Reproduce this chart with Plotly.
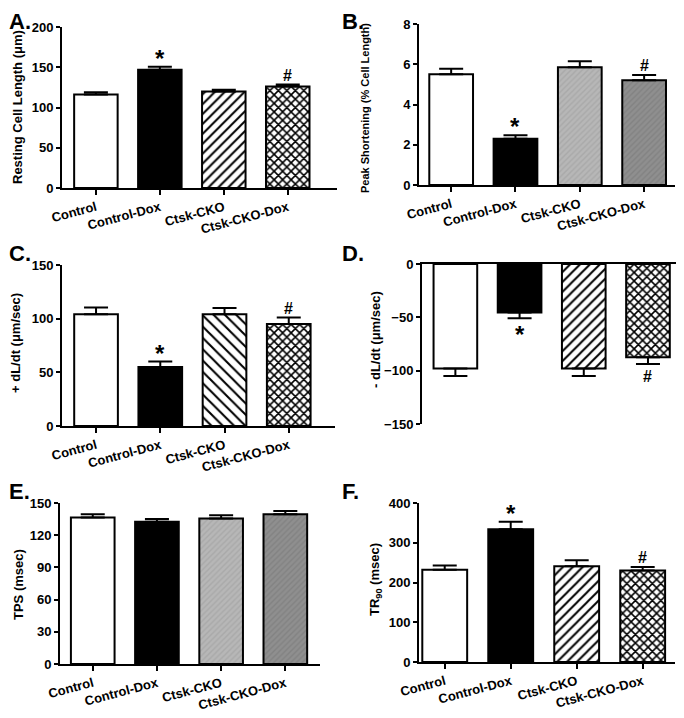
import plotly.graph_objects as go

# The page body keeps its default 8px margin, so the figure is drawn 8px in
# from the top-left corner; size it to fill the rest of the 684x718 window.
OFF = 8
W, H = 684 - OFF, 718 - OFF

categories = ["Control", "Control-Dox", "Ctsk-CKO", "Ctsk-CKO-Dox"]

resting_len = [116, 147, 120, 126]
resting_len_err = [3, 3.5, 2.2, 2.5]

peak_short = [5.5, 2.3, 5.85, 5.2]
peak_short_err = [0.28, 0.17, 0.3, 0.27]

plus_dldt = [104, 55, 104, 95]
plus_dldt_err = [6.5, 5, 6, 6]

minus_dldt = [-98, -45.5, -98, -87.5]
minus_dldt_err = [7, 5.3, 7, 6.3]

tps = [136.5, 132.5, 135.5, 139.5]
tps_err = [3, 2.5, 3, 3]

tr90 = [232, 334, 241, 230]
tr90_err = [11, 19, 15, 9]

sig_marks = ["", "*", "", "#"]

y_ticks_A = [0, 50, 100, 150, 200]
y_ticks_B = [0, 2, 4, 6, 8]
y_ticks_C = [0, 50, 100, 150]
y_ticks_D = [0, -50, -100, -150]
y_ticks_E = [0, 30, 60, 90, 120, 150]
y_ticks_F = [0, 100, 200, 300, 400]

FONT = "Liberation Sans, Arial, sans-serif"

# fill styles per bar: (background, pattern shape, pattern colour, size, solidity)
WHITE = ("white", "", "black", 8, 0.3)
BLACK = ("black", "", "black", 8, 0.3)
style_fwd = [WHITE, BLACK, ("white", "/", "black", 7, 0.28), ("white", "x", "black", 6, 0.45)]
style_back = [WHITE, BLACK, ("white", "\\", "black", 8, 0.26), ("white", "x", "black", 6, 0.45)]
style_gray = [WHITE, BLACK, ("#b7b7b7", "/", "#a9a9a9", 4, 0.35),
              ("#8f8f8f", "/", "#828282", 4, 0.35)]

panels = [
    dict(key="A", vals=resting_len, errs=resting_len_err, ticks=y_ticks_A, yr=[0, 200],
         px=(62, 337), py=(27, 188), xr=[-0.53, 3.77], style=style_fwd, marks=sig_marks,
         title="Resting Cell Length (\u03bcm)", tsize=13, tx=17, ty=107, lx=-8, ly=-8),
    dict(key="B", vals=peak_short, errs=peak_short_err, ticks=y_ticks_B, yr=[0, 8],
         px=(419, 675), py=(24, 185), xr=[-0.50, 3.48], style=style_gray, marks=sig_marks,
         title="Peak Shortening (% Cell Length)", tsize=11, tx=365, ty=108, lx=333, ly=-8),
    dict(key="C", vals=plus_dldt, errs=plus_dldt_err, ticks=y_ticks_C, yr=[0, 150],
         px=(62, 335), py=(265, 426), xr=[-0.53, 3.72], style=style_back, marks=sig_marks,
         title="+ dL/dt (\u03bcm/sec)", tsize=13, tx=15, ty=343, lx=-8, ly=232),
    dict(key="D", vals=minus_dldt, errs=minus_dldt_err, ticks=y_ticks_D, yr=[-150, 0],
         px=(422, 682), py=(264, 424), xr=[-0.52, 3.53], style=style_fwd, marks=sig_marks,
         title="- dL/dt (\u03bcm/sec)", tsize=13, tx=375, ty=340, lx=333, ly=232),
    dict(key="E", vals=tps, errs=tps_err, ticks=y_ticks_E, yr=[0, 150],
         px=(60, 320), py=(503, 664), xr=[-0.51, 3.54], style=style_gray,
         marks=["", "", "", ""],
         title="TPS (msec)", tsize=13, tx=18, ty=585, lx=-8, ly=470),
    dict(key="F", vals=tr90, errs=tr90_err, ticks=y_ticks_F, yr=[0, 400],
         px=(419, 675), py=(503, 662), xr=[-0.39, 3.49], style=style_fwd, marks=sig_marks,
         title="TR<sub>90</sub> (msec)", tsize=13, tx=375, ty=580, lx=333, ly=470),
]


def fx(px):
    return (px - OFF) / W


def fy(py):
    return 1 - (py - OFF) / H


fig = go.Figure()
layout = dict(width=W, height=H, margin=dict(l=0, r=0, t=0, b=0, autoexpand=False),
              paper_bgcolor="white", plot_bgcolor="white", showlegend=False,
              font=dict(family=FONT, size=13, color="black", weight="bold"),
              barmode="overlay")
annotations = []

tickfont = dict(family=FONT, size=13, color="black", weight="bold")

for i, p in enumerate(panels, start=1):
    xa = "x" if i == 1 else f"x{i}"
    ya = "y" if i == 1 else f"y{i}"
    xkey = "xaxis" if i == 1 else f"xaxis{i}"
    ykey = "yaxis" if i == 1 else f"yaxis{i}"
    neg = p["key"] == "D"
    for j in range(4):
        bg, shape, fg, size, sol = p["style"][j]
        e = p["errs"][j]
        err = dict(type="data", symmetric=False, color="black", thickness=2, width=12,
                   array=[0] if neg else [e], arrayminus=[e] if neg else [0])
        fig.add_trace(go.Bar(
            x=[j], y=[p["vals"][j]], xaxis=xa, yaxis=ya, width=0.68,
            marker=dict(color=bg, line=dict(color="black", width=2),
                        pattern=dict(shape=shape, fgcolor=fg, bgcolor=bg, size=size,
                                     solidity=sol, fillmode="replace")),
            error_y=err, hoverinfo="skip"))

    xd = [fx(p["px"][0]), fx(p["px"][1])]
    yd = [fy(p["py"][1]), fy(p["py"][0])]
    if not neg:
        layout[xkey] = dict(domain=xd, anchor=ya, range=p["xr"], tickmode="array",
                            tickvals=list(range(4)), ticktext=categories, tickangle=-15,
                            showline=True, linecolor="black", linewidth=2,
                            ticks="outside", ticklen=5, tickwidth=2, tickcolor="black",
                            showgrid=False, zeroline=False, tickfont=tickfont,
                            automargin=False, fixedrange=True)
    else:
        layout[xkey] = dict(domain=xd, anchor=ya, range=p["xr"], side="top",
                            tickmode="array", tickvals=list(range(4)),
                            showticklabels=False, showline=True, linecolor="black",
                            linewidth=2, ticks="inside", ticklen=5, tickwidth=2,
                            tickcolor="black", showgrid=False, zeroline=False,
                            layer="below traces", automargin=False)
        layout["xaxis7"] = dict(overlaying=xa, anchor=ya, side="bottom", range=p["xr"],
                                tickmode="array", tickvals=list(range(4)),
                                ticktext=categories, tickangle=-15, showline=False,
                                ticks="", showgrid=False, zeroline=False, tickfont=tickfont,
                                automargin=False)
    layout[ykey] = dict(domain=yd, anchor=xa, range=p["yr"], tickmode="array",
                        tickvals=p["ticks"], showline=True, linecolor="black", linewidth=2,
                        ticks="outside", ticklen=4, tickwidth=2, tickcolor="black",
                        showgrid=False, zeroline=False, tickfont=tickfont,
                        automargin=False)

    for j, m in enumerate(p["marks"]):
        if not m:
            continue
        big = m == "*"
        mfont = dict(family=FONT, size=24 if big else 16, color="black", weight="bold")
        if neg:
            yv = p["vals"][j] - p["errs"][j]
            annotations.append(dict(x=j, y=yv, xref=xa, yref=ya, text=m, showarrow=False,
                                    yanchor="top", yshift=-1 if big else -2, font=mfont))
        else:
            yv = p["vals"][j] + p["errs"][j]
            annotations.append(dict(x=j, y=yv, xref=xa, yref=ya, text=m, showarrow=False,
                                    yanchor="bottom", yshift=-7 if big else -1, font=mfont))

    annotations.append(dict(x=fx(p["tx"]), y=fy(p["ty"]), xref="paper", yref="paper",
                            text=p["title"], textangle=-90, showarrow=False,
                            xanchor="center", yanchor="middle",
                            font=dict(family=FONT, size=p["tsize"], color="black",
                                      weight="bold")))
    # panel letter; figure-relative position clamped to stay inside the figure
    lx = max(p["lx"], 0) + OFF
    ly = max(p["ly"], 0) + OFF
    annotations.append(dict(x=fx(lx), y=fy(ly), xref="paper", yref="paper",
                            text=p["key"] + ".", showarrow=False, borderpad=0,
                            xanchor="left", yanchor="top",
                            font=dict(family=FONT, size=22, color="black", weight="bold")))

layout["annotations"] = annotations
fig.update_layout(**layout)
fig.write_html("out.html")
